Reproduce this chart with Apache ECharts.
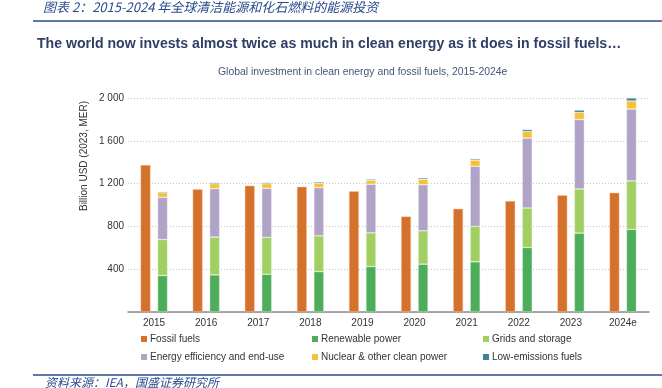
<!DOCTYPE html>
<html>
<head>
<meta charset="utf-8">
<script src="https://cdn.jsdelivr.net/npm/echarts@6/dist/echarts.min.js"></script>
<style>
html,body{margin:0;padding:0;background:#fff;}
#chart{width:662px;height:388px;}
</style>
</head>
<body>
<div id="chart"></div>
<script>
const years = ['2015','2016','2017','2018','2019','2020','2021','2022','2023','2024e'];
const fossil = [1375,1147,1181,1171,1128,894,965,1037,1091,1115];
const renewable = [341,347,353,378,425,447,469,603,737,772];
const grids = [337,353,344,334,315,312,331,369,413,453];
const efficiency = [394,453,459,450,454,431,562,653,649,672];
const nuclear = [43,46,43,41,37,50,57,62,66,75];
const lowEmission = [9,10,10,12,10,13,12,18,22,28];
const yTicks = [0,400,800,1200,1600,2000];

const FONT = '"Liberation Sans", Arial, sans-serif';
const CJK = '"Noto Sans CJK SC", sans-serif';

const chart = echarts.init(document.getElementById('chart'), null, {renderer:'canvas'});

function bar(name, data, color, stack, border){
  return {
    name: name, type: 'bar', data: data, stack: stack, barWidth: 10, barGap: '70%',
    clip: false,
    itemStyle: {color: color, borderColor: border, borderWidth: 0.6},
    emphasis: {disabled: true}
  };
}

const legendCommon = {
  orient: 'vertical', top: 333, padding: 0, itemWidth: 6, itemHeight: 6, itemGap: 6,
  icon: 'rect', selectedMode: false,
  itemStyle: {borderWidth: 0},
  textStyle: {fontFamily: FONT, fontSize: 10, color: '#333', lineHeight: 12, padding: [0,0,0,-2]}
};

chart.setOption({
  animation: false,
  textStyle: {fontFamily: FONT},
  title: [
    {text: '图表 2：2015-2024 年全球清洁能源和化石燃料的能源投资', left: 43, top: 1, padding: 0,
     textStyle: {fontFamily: CJK, fontStyle: 'italic', fontSize: 13, fontWeight: 'normal', color: '#2A4C8C'}},
    {text: 'The world now invests almost twice as much in clean energy as it does in fossil fuels…', left: 37, top: 37, padding: 0,
     textStyle: {fontFamily: FONT, fontSize: 14.1, fontWeight: 'bold', color: '#2F4066'}},
    {text: 'Global investment in clean energy and fossil fuels, 2015-2024e', left: 218, top: 67, padding: 0,
     textStyle: {fontFamily: FONT, fontSize: 10.4, fontWeight: 'normal', color: '#465775'}},
    {text: '资料来源：IEA，国盛证券研究所', left: 45, top: 376, padding: 0,
     textStyle: {fontFamily: CJK, fontStyle: 'italic', fontSize: 12, fontWeight: 'normal', color: '#2A4C8C'}}
  ],
  graphic: [
    {type: 'line', shape: {x1: 33, y1: 21, x2: 662, y2: 21}, style: {stroke: '#2A4C8C', lineWidth: 1.5}},
    {type: 'line', shape: {x1: 33, y1: 375, x2: 662, y2: 375}, style: {stroke: '#2A4C8C', lineWidth: 1.5}},
    {type: 'text', x: 84, y: 156, rotation: Math.PI/2,
     style: {text: 'Billion USD (2023, MER)', fontFamily: FONT, fontSize: 10, fill: '#333',
             textAlign: 'center', textVerticalAlign: 'middle'}}
  ],
  grid: {left: 128, right: 13, top: 98, bottom: 76},
  xAxis: {
    type: 'category', data: years,
    axisLine: {lineStyle: {color: '#8c8c8c', width: 1.5}},
    axisTick: {show: false},
    axisLabel: {fontFamily: FONT, fontSize: 10, color: '#333', margin: 6}
  },
  yAxis: {
    type: 'value', min: yTicks[0], max: yTicks[yTicks.length-1], interval: 400,
    axisLine: {show: false}, axisTick: {show: false},
    axisLabel: {fontFamily: FONT, fontSize: 10, color: '#333', margin: 4,
      formatter: function(v){ if (v === 0) return ''; return v >= 1000 ? Math.floor(v/1000) + ' ' + String(v%1000).padStart(3,'0') : String(v); }},
    splitLine: {lineStyle: {color: '#c4c4c4', type: [1,2], width: 1}}
  },
  legend: [
    Object.assign({}, legendCommon, {left: 141, data: ['Fossil fuels','Energy efficiency and end-use']}),
    Object.assign({}, legendCommon, {left: 312, data: ['Renewable power','Nuclear & other clean power']}),
    Object.assign({}, legendCommon, {left: 483, data: ['Grids and storage','Low-emissions fuels']})
  ],
  series: [
    bar('Fossil fuels', fossil, '#D4712B', 'fossil', 'rgba(250,200,170,0.8)'),
    bar('Renewable power', renewable, '#4EAD5B', 'clean', 'rgba(220,240,220,0.7)'),
    bar('Grids and storage', grids, '#A2CF62', 'clean', 'rgba(235,245,220,0.7)'),
    bar('Energy efficiency and end-use', efficiency, '#AFA3C7', 'clean', 'rgba(240,235,245,0.7)'),
    bar('Nuclear & other clean power', nuclear, '#F7C137', 'clean', 'rgba(255,245,210,0.7)'),
    bar('Low-emissions fuels', lowEmission, '#3F8296', 'clean', 'rgba(200,225,230,0.7)')
  ]
});
</script>
</body>
</html>
